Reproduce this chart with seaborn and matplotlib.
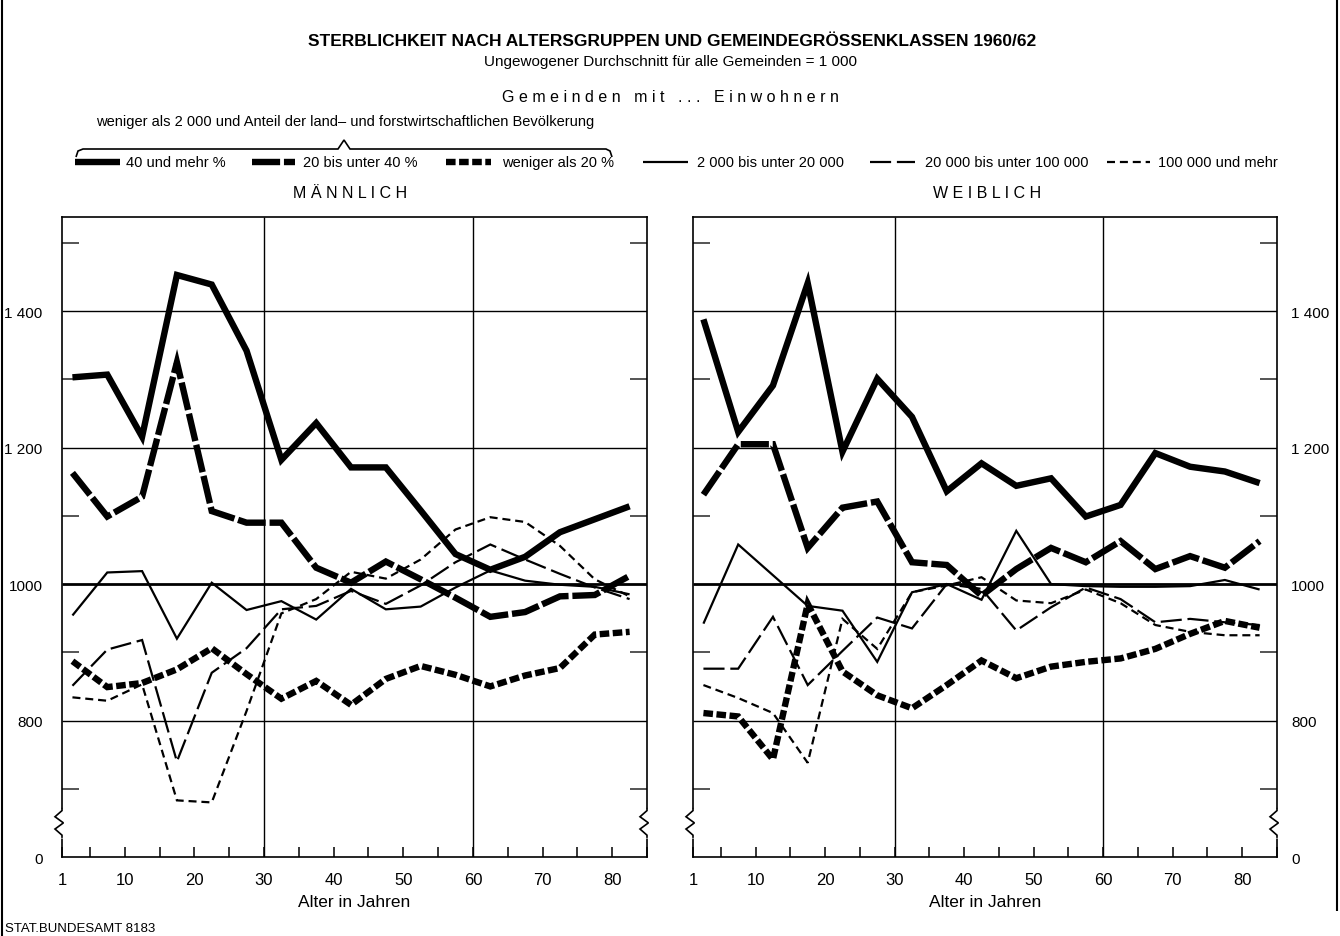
import numpy as np
import pandas as pd
import matplotlib
matplotlib.use("Agg")
import matplotlib.pyplot as plt
import matplotlib.transforms as mtransforms
from matplotlib import font_manager
import seaborn as sns

# Age groups (mid-points of the five-year classes)
ages = [2.5, 7.5, 12.5, 17.5, 22.5, 27.5, 32.5, 37.5, 42.5,
        47.5, 52.5, 57.5, 62.5, 67.5, 72.5, 77.5, 82.5]

# Mortality index, unweighted average of all municipalities = 1000
# --- male ---
m_agr40 = [1303, 1307, 1216, 1453, 1439, 1342, 1182, 1236, 1171,
           1171, 1108, 1044, 1021, 1040, 1076, 1095, 1114]
m_agr20 = [1163, 1099, 1128, 1325, 1107, 1090, 1090, 1024, 1002,
           1033, 1007, 980, 952, 959, 982, 984, 1012]
m_agr0 = [887, 849, 855, 875, 906, 868, 832, 858, 823,
          861, 880, 867, 850, 866, 877, 926, 930]
m_2k = [954, 1017, 1019, 920, 1002, 962, 975, 948, 993,
        963, 967, 995, 1020, 1005, 999, 996, 985]
m_20k = [851, 904, 918, 740, 870, 906, 963, 968, 990,
         971, 998, 1032, 1058, 1036, 1015, 995, 978]
m_100k = [834, 829, 853, 683, 680, 814, 957, 978, 1018,
          1008, 1036, 1080, 1098, 1091, 1056, 1007, 982]
# --- female ---
f_agr40 = [1388, 1223, 1291, 1441, 1194, 1301, 1245, 1136, 1177,
           1144, 1155, 1099, 1116, 1192, 1172, 1165, 1148]
f_agr20 = [1131, 1205, 1205, 1053, 1112, 1121, 1032, 1028, 983,
           1022, 1053, 1032, 1063, 1022, 1041, 1024, 1063]
f_agr0 = [811, 806, 743, 971, 872, 837, 818, 852, 888,
          862, 879, 886, 891, 905, 927, 946, 936]
f_2k = [942, 1058, 1013, 968, 961, 886, 988, 1000, 977,
        1078, 1000, 997, 996, 996, 997, 1006, 992]
f_20k = [876, 876, 952, 852, 902, 951, 935, 1000, 993,
         932, 966, 995, 978, 944, 949, 944, 940]
f_100k = [852, 833, 811, 738, 949, 905, 988, 998, 1010,
          976, 972, 992, 972, 940, 930, 925, 925]

groups = ["40 und mehr %", "20 bis unter 40 %", "weniger als 20 %",
          "2 000 bis unter 20 000", "20 000 bis unter 100 000", "100 000 und mehr"]
male = [m_agr40, m_agr20, m_agr0, m_2k, m_20k, m_100k]
female = [f_agr40, f_agr20, f_agr0, f_2k, f_20k, f_100k]

x_ticks = [1, 10, 20, 30, 40, 50, 60, 70, 80]
y_ticks = [600, 800, 1000, 1200, 1400]
y_tick_labels = ["0", "800", "1000", "1 200", "1 400"]

# line styles per group: (linewidth, linestyle)
styles = {
    groups[0]: (4.6, "-"),
    groups[1]: (4.6, (0, (4.4, 0.6))),
    groups[2]: (4.6, (0, (1.5, 0.55))),
    groups[3]: (1.6, "-"),
    groups[4]: (1.6, (0, (9.5, 2.6))),
    groups[5]: (1.6, (0, (3.6, 2.2))),
}

rows = []
for sex, block in (("MÄNNLICH", male), ("WEIBLICH", female)):
    for g, vals in zip(groups, block):
        for a, v in zip(ages, vals):
            rows.append({"sex": sex, "group": g, "age": a, "value": v})
df = pd.DataFrame(rows)

sns.set_theme(style="white")
names = {f.name for f in font_manager.fontManager.ttflist}
base = "Liberation Sans" if "Liberation Sans" in names else "DejaVu Sans"
plt.rcParams["font.family"] = [base, "DejaVu Sans"]
plt.rcParams["lines.solid_capstyle"] = "butt"
plt.rcParams["lines.dash_capstyle"] = "butt"
plt.rcParams["lines.solid_joinstyle"] = "miter"
plt.rcParams["lines.dash_joinstyle"] = "miter"

W, H = 1340, 937
fig = plt.figure(figsize=(W / 100, H / 100), dpi=100)
fig.patch.set_facecolor("white")

# overlay in pixel coordinates for headings, legend and frame
ov = fig.add_axes([0, 0, 1, 1], zorder=-5)
ov.set_xlim(0, W)
ov.set_ylim(H, 0)
ov.axis("off")

ax_l = fig.add_axes([62 / W, 1 - 858 / H, 585 / W, 640 / H])
ax_r = fig.add_axes([693 / W, 1 - 858 / H, 584 / W, 640 / H])

for ax, sex, right in ((ax_l, "MÄNNLICH", False), (ax_r, "WEIBLICH", True)):
    ax.set_facecolor("none")
    for g in groups:
        lw, ls = styles[g]
        sub = df[(df.sex == sex) & (df.group == g)]
        sns.lineplot(data=sub, x="age", y="value", ax=ax, color="black",
                     linewidth=lw, linestyle=ls, zorder=4, legend=False)
    ax.set_xlim(1, 85)
    ax.set_ylim(600, 1538)
    for yv in (800, 1200, 1400):
        ax.axhline(yv, color="black", lw=1.0, zorder=1)
    ax.axhline(1000, color="black", lw=2.0, zorder=1)
    for xv in (30, 60):
        ax.axvline(xv, color="black", lw=1.0, zorder=1)
    for s in ax.spines.values():
        s.set_visible(True)
        s.set_color("black")
        s.set_linewidth(1.2)
    ax.set_xticks(x_ticks, labels=[str(t) for t in x_ticks])
    ax.set_xticks(list(range(5, 86, 5)), minor=True)
    ax.set_yticks(y_ticks, labels=y_tick_labels)
    ax.set_yticks([700, 900, 1100, 1300, 1500], minor=True)
    ax.tick_params(axis="x", which="both", direction="in", length=7, width=1.1,
                   bottom=True, top=False, labelsize=12, pad=11, colors="black")
    ax.tick_params(axis="y", which="minor", direction="in", length=12, width=1.1,
                   left=True, right=True)
    ax.tick_params(axis="y", which="major", direction="in", length=0,
                   left=True, right=True, labelleft=not right, labelright=right,
                   labelsize=11, pad=14 if not right else 10, colors="black")
    ax.set_xlabel("Alter in Jahren", fontsize=12.5, labelpad=5, color="black")
    ax.set_ylabel("")

    # axis break marks on both vertical spines
    trans = mtransforms.blended_transform_factory(ax.transAxes, ax.transData)
    dx = 7 / 585
    for x0 in (0.0, 1.0):
        ax.plot([x0, x0], [628, 672], color="white", lw=3.5, transform=trans,
                clip_on=False, zorder=6)
        zx = x0 + np.array([0, 0, -dx, dx * 0.2, -dx, 0, 0])
        zy = np.array([672, 668, 659, 650, 641, 632, 628])
        ax.plot(zx, zy, color="black", lw=1.2, transform=trans,
                clip_on=False, zorder=7, solid_joinstyle="miter")

# headings
ov.text(672, 42, "STERBLICHKEIT NACH ALTERSGRUPPEN UND GEMEINDEGRÖSSENKLASSEN 1960/62",
        ha="center", va="center", fontsize=12.5, fontweight="bold", color="black")
ov.text(670, 62, "Ungewogener Durchschnitt für alle Gemeinden = 1 000",
        ha="center", va="center", fontsize=11, color="black")
ov.text(670, 97, "G e m e i n d e n   m i t   . . .   E i n w o h n e r n",
        ha="center", va="center", fontsize=11.5, color="black")
ov.text(345, 122, "weniger als 2 000 und Anteil der land– und forstwirtschaftlichen Bevölkerung",
        ha="center", va="center", fontsize=10.5, color="black")

# curly brace over the three rural groups
bx = [76, 78, 83, 338, 344, 350, 606, 610, 612]
by = [158, 152, 150, 150, 141, 150, 150, 152, 158]
ov.plot(bx, by, color="black", lw=1.2)

# legend keys
key_pos = [(75, 120, 126), (252, 295, 303), (446, 491, 502),
           (643, 688, 697), (870, 915, 925), (1107, 1150, 1158)]
for g, (x0, x1, xt) in zip(groups, key_pos):
    lw, ls = styles[g]
    ov.plot([x0, x1], [163, 163], color="black", lw=lw, linestyle=ls)
    ov.text(xt, 163, g, ha="left", va="center", fontsize=10.5, color="black")

ov.text(350, 193, "M Ä N N L I C H", ha="center", va="center", fontsize=11.5, color="black")
ov.text(987, 193, "W E I B L I C H", ha="center", va="center", fontsize=11.5, color="black")
ov.text(5, 929, "STAT.BUNDESAMT 8183", ha="left", va="center", fontsize=9.5, color="black")

# page frame lines
ov.plot([2, 2], [0, H], color="black", lw=1.5)
ov.plot([1337, 1337], [0, 912], color="black", lw=1.5)

fig.savefig("out.png", dpi=100, facecolor="white")
